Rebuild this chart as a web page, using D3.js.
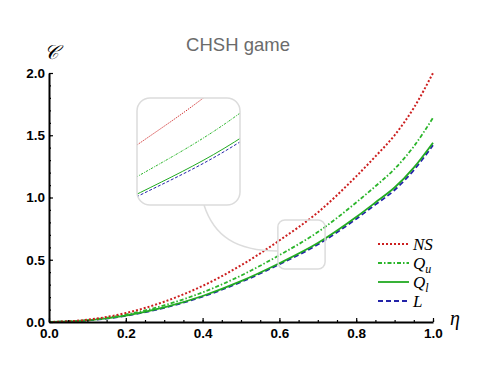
<!DOCTYPE html>
<html>
<head>
<meta charset="utf-8">
<script src="https://cdn.jsdelivr.net/npm/d3@7"></script>
<style>
  body { margin: 0; background: #fff; }
</style>
</head>
<body>
<svg id="chart" width="478" height="374"></svg>
<script>
// eta values and curves
const eta = [0, 0.1, 0.2, 0.3, 0.4, 0.5, 0.6, 0.7, 0.8, 0.85, 0.9, 0.95, 1.0];
const nsVals = [0, 0.018, 0.072, 0.163, 0.29, 0.455, 0.655, 0.88, 1.17, 1.33, 1.5, 1.72, 2.0];
const quVals = [0, 0.015, 0.06, 0.134, 0.238, 0.373, 0.537, 0.722, 0.96, 1.09, 1.23, 1.41, 1.64];
const qlVals = [0, 0.013, 0.052, 0.117, 0.209, 0.328, 0.472, 0.634, 0.843, 0.96, 1.08, 1.24, 1.44];
const lVals = [0, 0.012, 0.05, 0.114, 0.204, 0.321, 0.463, 0.622, 0.828, 0.943, 1.06, 1.22, 1.42];

const xTicks = [0, 0.2, 0.4, 0.6, 0.8, 1.0];
const yTicks = [0, 0.5, 1.0, 1.5, 2.0];
const zoomX = [0.596, 0.719];   // magnified window
const zoomY = [0.426, 0.819];

const series = [
  { name: 'NS', sub: '', vals: nsVals, color: '#cc1f1f', dash: '2,2', w: 2 },
  { name: 'Q', sub: 'u', vals: quVals, color: '#2bb52b', dash: '4,2,1.5,2', w: 1.8 },
  { name: 'Q', sub: 'l', vals: qlVals, color: '#22aa22', dash: null, w: 1.8 },
  { name: 'L', sub: '', vals: lVals, color: '#2323a8', dash: '5,3', w: 1.8 }
];

const margins = { left: 49, right: 45, top: 73, bottom: 52 };
const width = 478, height = 374;

const vis = d3.select('#chart');

const xScale = d3.scaleLinear().domain([0, 1]).range([margins.left, width - margins.right]);
const yScale = d3.scaleLinear().domain([0, 2]).range([height - margins.bottom, margins.top]);

// title
vis.append('text')
  .attr('x', 238).attr('y', 51)
  .attr('text-anchor', 'middle')
  .style('font-family', '"Liberation Sans", Arial, sans-serif')
  .style('font-size', '18.5px')
  .style('fill', '#6b6b6b')
  .text('CHSH game');

const lineGen = (xs, ys) => d3.line()
  .x((d, i) => xs(eta[i]))
  .y(d => ys(d))
  .curve(d3.curveMonotoneX);

// main curves
series.slice().reverse().forEach(s => {
  vis.append('path')
    .attr('d', lineGen(xScale, yScale)(s.vals))
    .attr('fill', 'none')
    .attr('stroke', s.color)
    .attr('stroke-width', s.w)
    .attr('stroke-dasharray', s.dash);
});

// axes: minor ticks first, then major with labels
vis.append('g')
  .attr('transform', 'translate(0,' + yScale(0) + ')')
  .call(d3.axisBottom(xScale).tickValues(d3.range(0, 1.001, 0.05)).tickFormat('').tickSize(-2).tickSizeOuter(0))
  .call(g => g.select('.domain').remove());
vis.append('g')
  .attr('transform', 'translate(' + xScale(0) + ',0)')
  .call(d3.axisLeft(yScale).tickValues(d3.range(0, 2.001, 0.1)).tickFormat('').tickSize(-2).tickSizeOuter(0))
  .call(g => g.select('.domain').remove());

vis.append('g')
  .attr('transform', 'translate(0,' + yScale(0) + ')')
  .call(d3.axisBottom(xScale).tickValues(xTicks).tickFormat(d3.format('.1f')).tickSize(-4).tickSizeOuter(0).tickPadding(6));
vis.append('g')
  .attr('transform', 'translate(' + xScale(0) + ',0)')
  .call(d3.axisLeft(yScale).tickValues(yTicks).tickFormat(d3.format('.1f')).tickSize(-4).tickSizeOuter(0).tickPadding(4));

vis.selectAll('.domain').attr('stroke', '#000').attr('stroke-width', 2);
vis.selectAll('.tick line').attr('stroke', '#000').attr('stroke-width', 1.2);
vis.selectAll('.tick text')
  .attr('font-family', null).attr('font-size', null)
  .style('font-family', '"Liberation Sans", Arial, sans-serif')
  .style('font-weight', 'bold')
  .style('font-size', '13.5px')
  .style('fill', '#000');

// axis labels
vis.append('text')
  .attr('x', 51).attr('y', 59)
  .attr('text-anchor', 'middle')
  .style('font-family', '"DejaVu Serif", serif')
  .style('font-style', 'italic')
  .style('font-size', '20px')
  .text('\u{1D49E}');
vis.append('text')
  .attr('x', 450).attr('y', 325)
  .style('font-family', '"Liberation Serif", serif')
  .style('font-style', 'italic')
  .style('font-size', '20px')
  .text('\u03B7');

// zoom marker on the main plot
const bx0 = xScale(zoomX[0]), bx1 = xScale(zoomX[1]);
const by0 = yScale(zoomY[1]), by1 = yScale(zoomY[0]);
vis.append('rect')
  .attr('x', bx0).attr('y', by0)
  .attr('width', bx1 - bx0).attr('height', by1 - by0)
  .attr('rx', 7)
  .attr('fill', 'none').attr('stroke', '#dcdcdc').attr('stroke-width', 1.5);

// connector
vis.append('path')
  .attr('d', 'M204,205 C214,236 236,251 ' + bx0 + ',251')
  .attr('fill', 'none').attr('stroke', '#dcdcdc').attr('stroke-width', 1.5);

// inset
const inset = { x: 137, y: 98, w: 103, h: 107 };
vis.append('defs').append('clipPath').attr('id', 'insetClip')
  .append('rect')
  .attr('x', inset.x).attr('y', inset.y)
  .attr('width', inset.w).attr('height', inset.h)
  .attr('rx', 13);
vis.append('rect')
  .attr('x', inset.x).attr('y', inset.y)
  .attr('width', inset.w).attr('height', inset.h)
  .attr('rx', 13)
  .attr('fill', '#fff');

const ixScale = d3.scaleLinear().domain(zoomX).range([inset.x, inset.x + inset.w]);
const iyScale = d3.scaleLinear().domain(zoomY).range([inset.y + inset.h, inset.y]);
const insetG = vis.append('g').attr('clip-path', 'url(#insetClip)');
series.slice().reverse().forEach(s => {
  insetG.append('path')
    .attr('d', lineGen(ixScale, iyScale)(s.vals))
    .attr('fill', 'none')
    .attr('stroke', s.color)
    .attr('stroke-width', 1)
    .attr('stroke-dasharray', s.dash ? s.dash.split(',').map(v => v * 0.6).join(',') : null);
});
vis.append('rect')
  .attr('x', inset.x).attr('y', inset.y)
  .attr('width', inset.w).attr('height', inset.h)
  .attr('rx', 13)
  .attr('fill', 'none').attr('stroke', '#dcdcdc').attr('stroke-width', 1.5);

// legend
const legend = vis.append('g').attr('transform', 'translate(378,244)');
series.forEach((s, i) => {
  const row = legend.append('g').attr('transform', 'translate(0,' + i * 19 + ')');
  row.append('line')
    .attr('x1', 0).attr('x2', 31)
    .attr('stroke', s.color)
    .attr('stroke-width', s.w)
    .attr('stroke-dasharray', s.dash);
  const t = row.append('text')
    .attr('x', 35).attr('y', 6)
    .style('font-family', '"Liberation Serif", serif')
    .style('font-style', 'italic')
    .style('font-size', '17px')
    .text(s.name);
  if (s.sub) {
    t.append('tspan').attr('dy', 4).style('font-size', '12px').text(s.sub);
  }
});
</script>
</body>
</html>
